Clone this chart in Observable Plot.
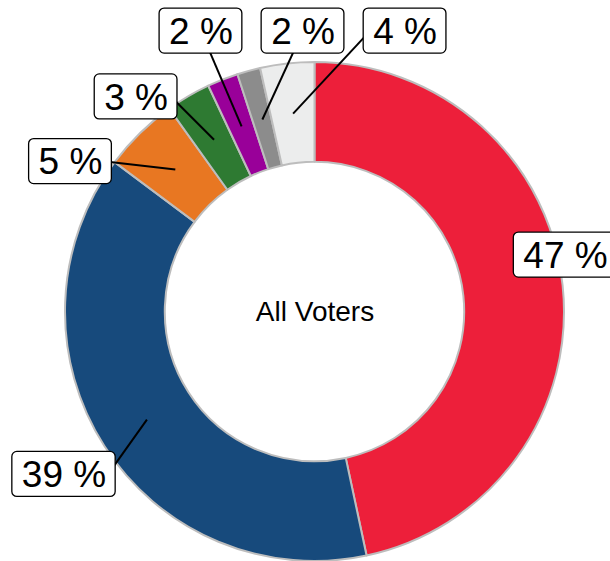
<!DOCTYPE html>
<html><head><meta charset="utf-8">
<script src="https://cdn.jsdelivr.net/npm/d3@7"></script>
<script src="https://cdn.jsdelivr.net/npm/@observablehq/plot@0.6"></script>
<style>body{margin:0;background:#fff} svg{display:block}</style>
</head><body><div id="chart"></div>
<script>
// ---- data ----
const parties = ["Republican", "Democrat", "Libertarian", "Green", "Constitution", "Other", "Undecided"];
const shares  = [46.7, 38.6, 4.9, 2.9, 2.0, 1.5, 3.5];
const colors  = ["#ED1F3A", "#174A7C", "#E87722", "#2E7A32", "#990099", "#8C8C8C", "#ECEDED"];
const centerLabel = "All Voters";

// ---- layout (label box centres, in units of outer radius) ----
const labelPos = [[1.004, 0.228], [-1.006, -0.651], [-0.980, 0.603], [-0.717, 0.862],
                  [-0.457, 1.126], [-0.048, 1.126], [0.361, 1.126]];

const W = 610, H = 561;
const xDomain = [-1.2605, 1.1844], yDomain = [-1.0, 1.2485];
const ppu = W / (xDomain[1] - xDomain[0]);
const inner = 0.6, anchorR = 0.8, fontSize = 37, pad = 9.5, boxH = 45;

const pie = d3.pie().sort(null).value(d => d.share);
const rows = parties.map((p, i) => ({party: p, share: shares[i], color: colors[i]}));
const arcs = pie(rows);

const charW = c => ({" ": 0.278, "%": 0.889})[c] ?? 0.556;
const labels = arcs.map((a, i) => {
  const mid = (a.startAngle + a.endAngle) / 2;
  const ax = anchorR * Math.sin(mid), ay = anchorR * Math.cos(mid);
  const text = Math.round(a.data.share) + " %";
  const wpx = d3.sum([...text], charW) * fontSize + 2 * pad;
  const [lx, ly] = labelPos[i];
  const hw = wpx / 2 / ppu, hh = boxH / 2 / ppu;
  const x1 = lx - hw, x2 = lx + hw, y1 = ly - hh, y2 = ly + hh;
  // segment target: box mid-line when the anchor lies beside the box, else box centre
  let tx = lx, ty = ly;
  if (ax < x1 || ax > x2) tx = Math.max(lx - 0.85 * hw, Math.min(lx + 0.85 * hw, ax));
  // entry point into the box (slab method)
  const dx = tx - ax, dy = ty - ay;
  let tEnter = 0;
  if (Math.abs(dx) > 1e-9) tEnter = Math.max(tEnter, Math.min((x1 - ax) / dx, (x2 - ax) / dx));
  if (Math.abs(dy) > 1e-9) tEnter = Math.max(tEnter, Math.min((y1 - ay) / dy, (y2 - ay) / dy));
  const segLen = Math.hypot(dx, dy) * tEnter * ppu;
  return {text, ax, ay, lx, ly, tx, ty, x1, x2, y1, y2, segLen};
});

const ringMark = (index, scales) => {
  const cx = scales.x(0), cy = scales.y(0);
  const R = scales.x(1) - cx;
  const g = d3.create("svg:g").attr("transform", `translate(${cx},${cy})`);
  const arc = d3.arc().innerRadius(R * inner).outerRadius(R);
  g.selectAll("path").data(arcs).join("path")
    .attr("d", arc).attr("fill", d => d.data.color)
    .attr("stroke", "#BDBDBD").attr("stroke-width", 2).attr("stroke-linejoin", "round");
  return g.node();
};

const chart = Plot.plot({
  width: W, height: H,
  margin: 0,
  x: {domain: xDomain, axis: null},
  y: {domain: yDomain, axis: null},
  style: {fontFamily: "'Liberation Sans', Arial, sans-serif", background: "#fff"},
  marks: [
    ringMark,
    Plot.text([centerLabel], {x: 0, y: 0, text: d => d, fontSize: 28, fill: "#000"}),
    Plot.link(labels.filter(d => d.segLen > 30), {x1: "ax", y1: "ay", x2: "tx", y2: "ty", stroke: "#000", strokeWidth: 2}),
    Plot.rect(labels, {x1: "x1", x2: "x2", y1: "y1", y2: "y2", fill: "#fff", stroke: "#000", strokeWidth: 1.3, rx: 5}),
    Plot.text(labels, {x: "lx", y: "ly", text: "text", fontSize: fontSize, fill: "#000", dy: 1})
  ]
});
document.getElementById("chart").appendChild(chart);
</script>
</body></html>
